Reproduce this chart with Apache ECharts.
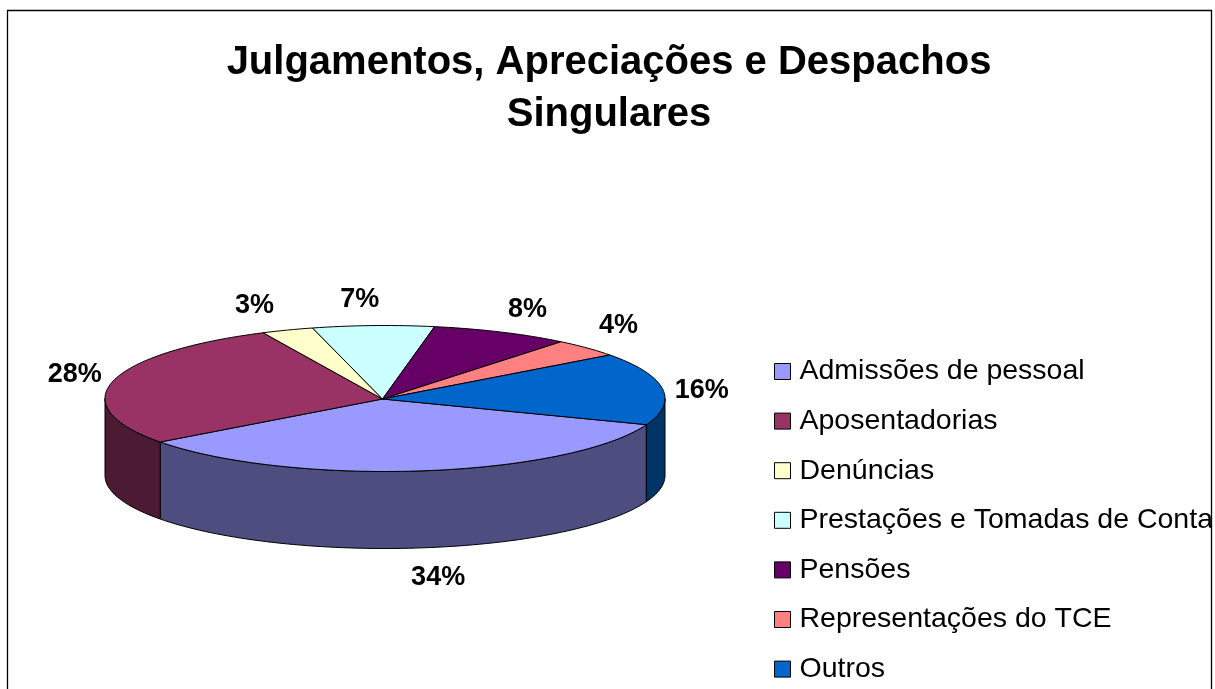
<!DOCTYPE html>
<html>
<head>
<meta charset="utf-8">
<style>html,body{margin:0;padding:0;background:#fff;overflow:hidden}#c{width:1215px;height:689px}</style>
<script src="https://cdn.jsdelivr.net/npm/echarts@6/dist/echarts.min.js"></script>
</head>
<body>
<div id="c"></div>
<script>
var categories = ['Admissões de pessoal','Aposentadorias','Denúncias','Prestações e Tomadas de Contas','Pensões','Representações do TCE','Outros'];
var values = [34,28,3,7,8,4,16];
var topColors = ['#9999FF','#993366','#FFFFCC','#CCFFFF','#660066','#FF8080','#0066CC'];
var wallColors = ['#4D4D80','#4D1A33','#808066','#668080','#330033','#804040','#003366'];
var labelNudges = [[7,3],[20,0],[-12,1],[-11,1],[1,2],[-12,-4],[-20,6]];

var CX = 385, CY = 398.5, RX = 280, RY = 73, DEPTH = 77, START = 21;
var APEX_X = 382.5, APEX_Y = 399;
var LABEL_RX = 340, LABEL_RY = 100;
var total = values.reduce(function(a,b){return a+b;},0);

function pt(deg, dy){
  var r = deg*Math.PI/180;
  return [CX+RX*Math.cos(r), CY+RY*Math.sin(r)+(dy||0)];
}
function arc(a0,a1,dy){
  var out=[], n=Math.max(2,Math.ceil(Math.abs(a1-a0)/1.5));
  for(var i=0;i<=n;i++) out.push(pt(a0+(a1-a0)*i/n,dy));
  return out;
}
function frontRanges(a0,a1){
  var res=[];
  [[0,180],[360,540]].forEach(function(w){
    var s=Math.max(a0,w[0]), e=Math.min(a1,w[1]);
    if(e>s) res.push([s,e]);
  });
  return res;
}
function makeRender(idx){
  return function(params, api){
    var before = 0;
    for(var i=0;i<idx;i++) before += values[i];
    var val = api.value(0);
    var a0 = START + before/total*360, a1 = a0 + val/total*360;
    var children = [];
    frontRanges(a0,a1).forEach(function(r){
      var top = arc(r[0],r[1],0), bot = arc(r[1],r[0],DEPTH);
      children.push({type:'polygon',shape:{points:top.concat(bot)},
        style:{fill:wallColors[idx],stroke:'#000',lineWidth:1}});
    });
    var pts = [[APEX_X,APEX_Y]].concat(arc(a0,a1,0));
    children.push({type:'polygon',shape:{points:pts},
      style:{fill:topColors[idx],stroke:'#000',lineWidth:1}});
    var mid = (a0+a1)/2*Math.PI/180;
    var s = Math.sin(mid);
    var lx = CX+LABEL_RX*Math.cos(mid)+labelNudges[idx][0];
    var ly = CY+LABEL_RY*s+(s>0?DEPTH:0)+labelNudges[idx][1];
    children.push({type:'text',z2:50,style:{x:lx,y:ly,text:Math.round(val/total*100)+'%',
      fill:'#000',font:'bold 27px "Liberation Sans"',align:'center',verticalAlign:'middle'}});
    return {type:'group',children:children};
  };
}
var series = categories.map(function(name,i){
  return {type:'custom',name:name,coordinateSystem:'none',renderItem:makeRender(i),
    data:[[values[i]]],itemStyle:{color:topColors[i]},silent:true,animation:false,clip:false,z:2};
});
var chart = echarts.init(document.getElementById('c'),null,{renderer:'canvas'});
chart.setOption({
  animation:false,
  backgroundColor:'#fff',
  title:{text:'Julgamentos, Apreciações e Despachos\nSingulares',left:604,top:32,textAlign:'center',
    textStyle:{fontFamily:'Liberation Sans',fontWeight:'bold',fontSize:40,lineHeight:52,color:'#000'}},
  color:topColors,
  legend:{orient:'vertical',left:769,top:352,height:340,itemWidth:16,itemHeight:16,itemGap:20.6,icon:'rect',
    selectedMode:false,data:categories.map(function(n,i){return {name:n,itemStyle:{color:topColors[i],borderColor:'#000',borderWidth:1}};}),
    textStyle:{fontFamily:'Liberation Sans',fontSize:28.5,color:'#000',padding:[0,0,0,4]}},
  graphic:[
    {type:'rect',z:20,shape:{x:7.5,y:10.5,width:1204,height:720},style:{fill:'none',stroke:'#000',lineWidth:1.3},silent:true},
    {type:'rect',z:19,shape:{x:1212,y:0,width:10,height:689},style:{fill:'#fff'},silent:true}
  ],
  series:series
});
</script>
</body>
</html>
